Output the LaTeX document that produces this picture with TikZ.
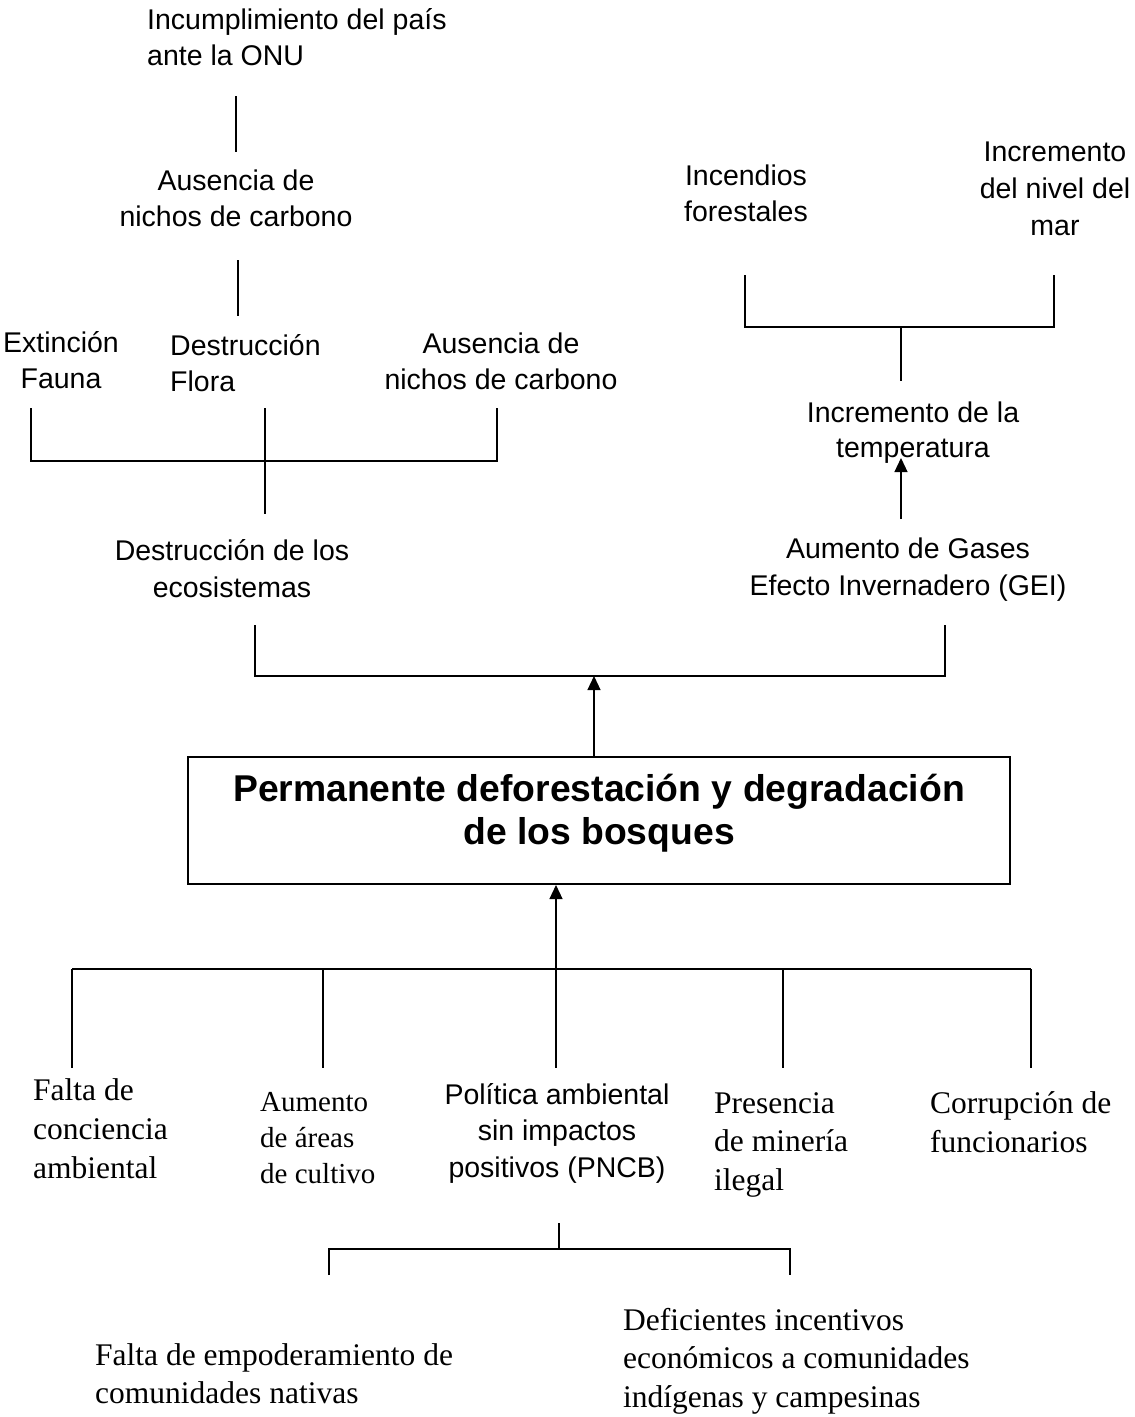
\documentclass[tikz,border=0pt]{standalone}
\usepackage{fontspec}
\newfontfamily\sansf{Liberation Sans}
\newfontfamily\serf{Liberation Serif}
\usetikzlibrary{arrows.meta}
\newcommand\mystrut{\rule{0pt}{1em}}
\begin{document}
\begin{tikzpicture}[x=1pt,y=-1pt,
  ln/.style={line width=1.2pt, black},
  arr/.style={ln, -{Triangle[length=14pt,width=13pt]}},
  sans/.style={inner sep=0pt, font=\sansf\fontsize{28.5}{36}\selectfont, align=center, anchor=north},
  sansl/.style={sans, align=left, anchor=north west},
  boldt/.style={inner sep=0pt, font=\sansf\bfseries\fontsize{37.3}{42.5}\selectfont, align=center, anchor=north},
  serl/.style={inner sep=0pt, font=\serf\fontsize{31.5}{39}\selectfont, align=left, anchor=north west},
  sers/.style={inner sep=0pt, font=\serf\fontsize{29}{36}\selectfont, align=left, anchor=north west}]
\useasboundingbox[fill=white] (0,0) rectangle (1135,1417);

% ---------- text nodes ----------
\node[sansl] (onu) at (147,0.5) {\mystrut Incumplimiento del país\\ante la ONU};
\node[sans] (aus1) at (236,161.5) {\mystrut Ausencia de\\nichos de carbono};
\node[sans] (ext) at (61,323.5) {\mystrut Extinción\\Fauna};
\node[sansl] (flo) at (170,326.5) {\mystrut Destrucción\\Flora};
\node[sans] (aus2) at (501,324.5) {\mystrut Ausencia de\\nichos de carbono};
\node[sans, font=\sansf\fontsize{28.5}{37}\selectfont] (deseco) at (232,531.5) {\mystrut Destrucción de los\\ecosistemas};
\node[sans] (inc) at (746,156.5) {\mystrut Incendios\\forestales};
\node[sans, font=\sansf\fontsize{28.5}{37}\selectfont] (mar) at (1055,132.5) {\mystrut Incremento\\del nivel del\\mar};
\node[sans, font=\sansf\fontsize{28.5}{35}\selectfont] (temp) at (913,393.5) {\mystrut Incremento de la\\temperatura};
\node[sans, font=\sansf\fontsize{28.5}{37}\selectfont] (gei) at (908,529.5) {\mystrut Aumento de Gases\\Efecto Invernadero (GEI)};

\node[draw, line width=2pt, minimum width=822pt, minimum height=127pt, inner sep=0pt] (box) at (599,820.5) {};
\node[boldt] (boxt) at (599,764) {\mystrut Permanente deforestación y degradación\\de los bosques};

\node[serl] (falta) at (33,1068.5) {\mystrut Falta de\\conciencia\\ambiental};
\node[sers] (aum) at (260,1082) {\mystrut Aumento\\de áreas\\de cultivo};
\node[sans, font=\sansf\fontsize{28.5}{36.5}\selectfont] (pol) at (557,1075.5) {\mystrut Política ambiental\\sin impactos\\positivos (PNCB)};
\node[serl, font=\serf\fontsize{31.5}{38.5}\selectfont] (pres) at (714,1081.5) {\mystrut Presencia\\de minería\\ilegal};
\node[serl] (corr) at (930,1081.5) {\mystrut Corrupción de\\funcionarios};
\node[serl, font=\serf\fontsize{31.5}{38}\selectfont] (emp) at (95,1333.5) {\mystrut Falta de empoderamiento de\\comunidades nativas};
\node[serl, font=\serf\fontsize{31.5}{38.5}\selectfont] (def) at (623,1298.5) {\mystrut Deficientes incentivos\\económicos a comunidades\\indígenas y campesinas};

% ---------- connector coordinates ----------
\coordinate (a1) at (236,96);  \coordinate (a2) at (236,152);
\coordinate (b1) at (238,260); \coordinate (b2) at (238,316);
\coordinate (cL) at (31,408);  \coordinate (cR) at (497,408);
\coordinate (cM) at (265,408); \coordinate (cMb) at (265,514);
\coordinate (dL) at (255,625); \coordinate (dR) at (945,625);
\coordinate (dM) at (594,676);
\coordinate (eL) at (745,275); \coordinate (eR) at (1054,275);
\coordinate (eM) at (901,327); \coordinate (eMb) at (901,381);
\coordinate (fB) at (901,519); \coordinate (fT) at (901,458);
\coordinate (hL) at (72,969);  \coordinate (hR) at (1031,969);
\coordinate (hM) at (556,969);
\coordinate (g1) at (323,969); \coordinate (g2) at (783,969);
\coordinate (kM) at (559,1223); \coordinate (kL) at (329,1249); \coordinate (kR) at (790,1249);

% ---------- connectors ----------
\draw[ln] (a1) -- (a2);
\draw[ln] (b1) -- (b2);
\draw[ln] (cL) -- (cL |- 0,461) -- (cR |- 0,461) -- (cR);
\draw[ln] (cM) -- (cMb);
\draw[ln] (dL) -- (dL |- dM) -- (dR |- dM) -- (dR);
\draw[arr] (dM |- box.north) -- (dM);
\draw[ln] (eL) -- (eL |- eM) -- (eR |- eM) -- (eR);
\draw[ln] (eM) -- (eMb);
\draw[arr] (fB) -- (fT);
\draw[ln] (hL) -- (hR);
\draw[arr] (hM) -- (hM |- box.south);
\draw[ln] (hL) -- ++(0,99);
\draw[ln] (g1) -- ++(0,99);
\draw[ln] (hM) -- ++(0,99);
\draw[ln] (g2) -- ++(0,99);
\draw[ln] (hR) -- ++(0,99);
\draw[ln] (kM) -- (kM |- kL);
\draw[ln] (kL |- 0,1275) -- (kL) -- (kR) -- (kR |- 0,1275);
\end{tikzpicture}
\end{document}
